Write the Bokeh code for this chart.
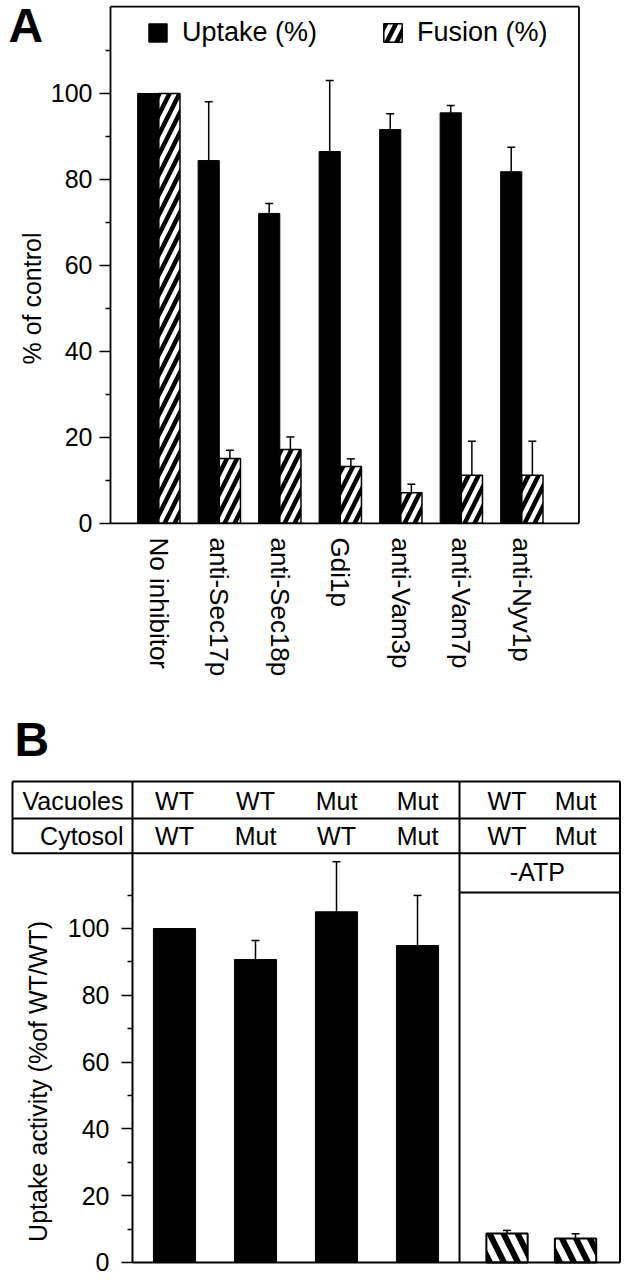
import math
from bokeh.plotting import figure
from bokeh.models import (Range1d, FixedTicker, Whisker, TeeHead, ColumnDataSource,
                          Legend, LegendItem)
from bokeh.layouts import column
from bokeh.embed import file_html
from bokeh.resources import INLINE
from bokeh.core.properties import value

FONT = "Liberation Sans"

# ---------------- Panel A data ----------------
a_categories = ["No inhibitor", "anti-Sec17p", "anti-Sec18p", "Gdi1p",
                "anti-Vam3p", "anti-Vam7p", "anti-Nyv1p"]
a_uptake = [100, 84.4, 72.1, 86.5, 91.6, 95.5, 81.8]
a_uptake_err = [0, 13.7, 2.3, 16.5, 3.7, 1.7, 5.7]
a_fusion = [100, 15.1, 17.2, 13.2, 7.1, 11.2, 11.2]
a_fusion_err = [0, 1.9, 2.9, 1.8, 2.0, 7.9, 7.9]
a_major_ticks = [0, 20, 40, 60, 80, 100]
a_minor_ticks = [10, 30, 50, 70, 90, 110]

# ---------------- Panel B data ----------------
b_vacuoles = ["WT", "WT", "Mut", "Mut", "WT", "Mut"]
b_cytosol = ["WT", "Mut", "WT", "Mut", "WT", "Mut"]
b_uptake = [100, 90.7, 105, 94.9, 8.7, 7.2]
b_uptake_err = [0, 5.7, 15, 15, 0.9, 1.4]
b_major_ticks = [0, 20, 40, 60, 80, 100]
b_minor_ticks = [10, 30, 50, 70, 90, 110]

W = 623


def style_yaxis(ax, standoff):
    ax.axis_line_color = None
    ax.major_tick_out = 11
    ax.major_tick_in = 0
    ax.minor_tick_out = 5
    ax.minor_tick_in = 0
    ax.major_label_standoff = standoff
    ax.major_tick_line_width = 1.5
    ax.minor_tick_line_width = 1.5
    ax.major_tick_line_color = "black"
    ax.minor_tick_line_color = "black"
    ax.major_label_text_font = FONT
    ax.major_label_text_font_size = "25px"
    ax.major_label_text_color = "black"


def txt(p, x, y, t, size="25px", align="center", baseline="middle", angle=0, bold=False):
    p.text(x=x, y=y, text=t, text_font=value(FONT), text_font_size=size,
           text_align=align, text_baseline=baseline, angle=angle, text_color="black",
           text_font_style="bold" if bold else "normal")


def whiskers(p, xs, vals, errs):
    idx = [i for i, e in enumerate(errs) if e > 0]
    s = ColumnDataSource(dict(x=[xs[i] for i in idx], lo=[vals[i] for i in idx],
                              hi=[vals[i] + errs[i] for i in idx]))
    p.add_layout(Whisker(source=s, base="x", lower="lo", upper="hi", dimension="height",
                         line_width=1.5, line_color="black", lower_head=None,
                         upper_head=TeeHead(size=8, line_width=1.5, line_color="black")))


# ================= Panel A =================
HA = 690
pa = figure(width=W, height=HA, x_range=Range1d(-1.6165, 8.681), y_range=Range1d(-2.6, 121.63),
            output_backend="svg", toolbar_location=None,
            min_border_left=0, min_border_right=0, min_border_top=0, min_border_bottom=156)
pa.grid.visible = False
pa.outline_line_color = None
pa.background_fill_color = "white"
pa.border_fill_color = "white"

a_left, a_right, a_top = 0.2017, 7.945, 120.2
xc = [i + 1 for i in range(len(a_categories))]
bw = 0.35
src_a = ColumnDataSource(dict(
    xb=[x - bw / 2 for x in xc], xh=[x + bw / 2 for x in xc],
    up=a_uptake, fu=a_fusion,
))
rb = pa.vbar(x="xb", top="up", width=bw, source=src_a, fill_color="black", line_color="black")
rh = pa.vbar(x="xh", top="fu", width=bw, source=src_a, fill_color="white", line_color="black",
             line_width=1.5, hatch_pattern="right_diagonal_line", hatch_color="black",
             hatch_weight=4.5, hatch_scale=20)

whiskers(pa, src_a.data["xb"], a_uptake, a_uptake_err)
whiskers(pa, src_a.data["xh"], a_fusion, a_fusion_err)

# box of panel A
pa.segment(x0=[a_left, a_left, a_right, a_left], y0=[0, a_top, 0, 0],
           x1=[a_left, a_right, a_right, a_right], y1=[a_top, a_top, a_top, 0],
           line_color="black", line_width=1.8)

pa.yaxis.fixed_location = a_left
pa.yaxis.ticker = FixedTicker(ticks=a_major_ticks, minor_ticks=a_minor_ticks)
style_yaxis(pa.yaxis, 7)

pa.xaxis.ticker = FixedTicker(ticks=xc)
pa.xaxis.major_label_overrides = {x: c for x, c in zip(xc, a_categories)}
pa.xaxis.major_label_orientation = "vertical"
pa.xaxis.axis_line_color = None
pa.xaxis.major_tick_out = 0
pa.xaxis.major_tick_in = 0
pa.xaxis.major_label_standoff = 3
pa.xaxis.major_label_text_font = FONT
pa.xaxis.major_label_text_font_size = "26px"
pa.xaxis.major_label_text_color = "black"

legend = Legend(items=[LegendItem(label="Uptake (%)", renderers=[rb]),
                       LegendItem(label="Fusion (%)", renderers=[rh])],
                orientation="horizontal", location=(146, 486), glyph_width=23, glyph_height=23,
                label_text_font=FONT, label_text_font_size="27px", label_standoff=13,
                spacing=64, padding=0, margin=0, border_line_color=None,
                background_fill_alpha=0, label_text_color="black")
pa.add_layout(legend)

txt(pa, [-1.484], [115.7], ["A"], size="48px", align="left", baseline="middle", bold=True)
txt(pa, [-1.088], [52.3], ["% of control"], angle=math.pi / 2)

# ================= Panel B =================
HB = 586
pb = figure(width=W, height=HB, x_range=Range1d(-2.148, 5.543), y_range=Range1d(-3.0, 171.26),
            output_backend="svg", toolbar_location=None,
            min_border_left=0, min_border_right=0, min_border_top=0, min_border_bottom=4)
pb.grid.visible = False
pb.outline_line_color = None
pb.background_fill_color = "white"
pb.border_fill_color = "white"
pb.xaxis.visible = False

y_axis_x = -0.5185
divider_x = 3.5185
right_x = 5.50
table_left = -2.0
xpos = [0, 1, 2, 3, 4.105, 4.951]
solid = [0, 1, 2, 3]
hatched = [4, 5]

pb.vbar(x=[xpos[i] for i in solid], top=[b_uptake[i] for i in solid], width=0.52,
        fill_color="black", line_color="black")
pb.vbar(x=[xpos[i] for i in hatched], top=[b_uptake[i] for i in hatched], width=0.51,
        fill_color="white", line_color="black", line_width=2,
        hatch_pattern="left_diagonal_line", hatch_color="black", hatch_weight=6, hatch_scale=28)
whiskers(pb, xpos, b_uptake, b_uptake_err)

row_top, row_mid, row_bot, atp_line = 144.0, 132.9, 122.5, 110.8
pb.segment(x0=[table_left, table_left, table_left, divider_x, y_axis_x],
           y0=[row_top, row_mid, row_bot, atp_line, 0],
           x1=[right_x, right_x, right_x, right_x, right_x],
           y1=[row_top, row_mid, row_bot, atp_line, 0],
           line_color="black", line_width=2)
pb.segment(x0=[table_left, y_axis_x, divider_x, right_x], y0=[row_bot, 0, 0, 0],
           x1=[table_left, y_axis_x, divider_x, right_x], y1=[row_top, row_top, row_top, row_top],
           line_color="black", line_width=2)

txt(pb, xpos, [138.3] * 6, b_vacuoles)
txt(pb, xpos, [127.6] * 6, b_cytosol)
txt(pb, [-0.63, -0.63], [138.3, 127.6], ["Vacuoles", "Cytosol"], align="right")
txt(pb, [4.48], [116.8], ["-ATP"])

pb.yaxis.fixed_location = y_axis_x
pb.yaxis.ticker = FixedTicker(ticks=b_major_ticks, minor_ticks=b_minor_ticks)
style_yaxis(pb.yaxis, 12)

txt(pb, [-1.679], [54.2], ["Uptake activity (%of WT/WT)"], angle=math.pi / 2)
txt(pb, [-1.975], [156.7], ["B"], size="48px", align="left", baseline="middle", bold=True)

layout = column(pa, pb, spacing=0)
open("out.html", "w").write(file_html(layout, INLINE))
